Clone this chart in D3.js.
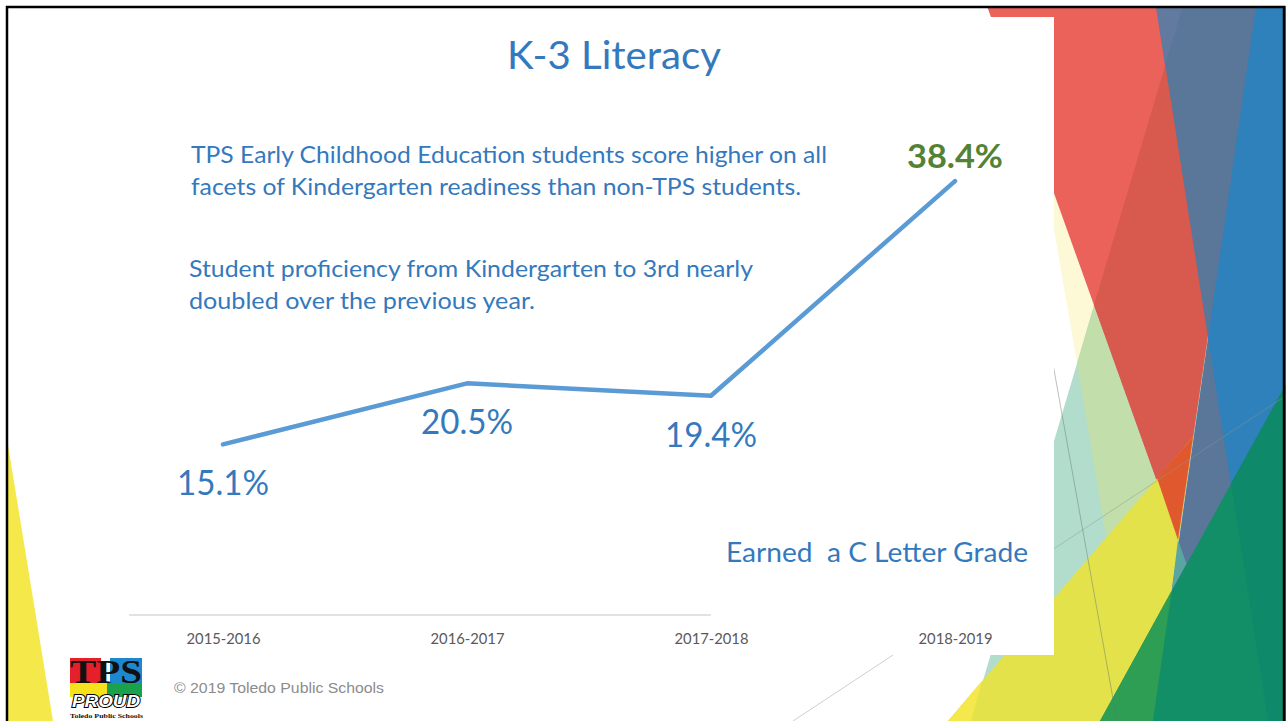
<!DOCTYPE html>
<html>
<head>
<meta charset="utf-8">
<script src="https://cdn.jsdelivr.net/npm/d3@7"></script>
<style>
  body { margin: 0; background: #fff; }
  text { font-family: Lato, "Open Sans", sans-serif; }
</style>
</head>
<body>
<div id="slide"></div>
<script>
// chart data
var years = ["2015-2016", "2016-2017", "2017-2018", "2018-2019"];
var literacy = [15.1, 20.5, 19.4, 38.4];
var title = "K-3 Literacy";
var noteLines = [
    "TPS Early Childhood Education students score higher on all",
    "facets of Kindergarten readiness than non-TPS students.",
    "Student proficiency from Kindergarten to 3rd nearly",
    "doubled over the previous year."
];
var gradeNote = "Earned  a C Letter Grade";
var copyright = "\u00a9 2019 Toledo Public Schools";

var W = 1286, H = 721;
var blue = "#3479BD";

var svg = d3.select("#slide")
    .append("svg")
        .attr("width", W)
        .attr("height", H);

svg.append("rect").attr("width", W).attr("height", H).attr("fill", "#fff");

/* BACKGROUND FACETS */
var facets = [
    {c: "#F5E84A", p: [[8,445],[53,721],[8,721]]},
    {c: "#B2DDCC", p: [[1183,6],[1290,6],[1290,721],[971,721]]},
    {c: "#FDF9D6", p: [[1042,160],[1094,305],[1077,363]]},
    {c: "#C1DEAB", p: [[1094,305],[1077,363],[1137,721],[1242,721]]},
    {c: "#EA6259", p: [[987,6],[1256,6],[1178,540]]},
    {c: "#D85A4F", p: [[1183,6],[1256,6],[1178,540],[1094,305]]},
    {c: "#5A7699", p: [[1156,6],[1290,6],[1290,721],[1153,721],[1208,338]]},
    {c: "#6279A0", p: [[1156,6],[1183,6],[1165,65]]},
    {c: "#2E81BB", p: [[1256,6],[1290,6],[1290,721],[1268,721],[1208,338]]},
    {c: "#E3E24B", p: [[1193,437],[1153,721],[948,721]]},
    {c: "#F4E84C", p: [[982.6,680],[948,721],[971,721]]},
    {c: "#E0592E", p: [[1157,478],[1193,437],[1178,540]]},
    {c: "#5AA5A0", p: [[1178,540],[1186.5,563.7],[1171.8,590.3]]},
    {c: "#128F67", p: [[1290,377],[1290,721],[1100,721]]},
    {c: "#2E9E55", p: [[1171.8,590.3],[1152.9,721],[1100,721]]},
    {c: "#0E8A6B", p: [[1231,483.6],[1290,377],[1290,721],[1268,721]]}
];
svg.append("g").selectAll("polygon")
    .data(facets)
    .enter().append("polygon")
        .attr("points", function(d) { return d.p.join(" "); })
        .attr("fill", function(d) { return d.c; });

// thin lines of the theme
svg.append("line").attr("x1", 1020).attr("y1", 180).attr("x2", 1117).attr("y2", 721)
    .attr("stroke", "#60786c").attr("stroke-opacity", 0.45).attr("stroke-width", 1);
svg.append("line").attr("x1", 793).attr("y1", 721).attr("x2", 1290).attr("y2", 393)
    .attr("stroke", "#8a9a92").attr("stroke-opacity", 0.45).attr("stroke-width", 1);

// white content box
svg.append("rect")
    .attr("x", 60).attr("y", 17)
    .attr("width", 994).attr("height", 638)
    .attr("fill", "#fff");

// slide frame
svg.append("rect")
    .attr("x", 7).attr("y", 7)
    .attr("width", 1277).attr("height", 730)
    .attr("fill", "none")
    .attr("stroke", "#000")
    .attr("stroke-width", 2.5);

// fit a text element to a given width
function fit(sel, w) {
    sel.attr("textLength", w).attr("lengthAdjust", "spacingAndGlyphs");
    return sel;
}

/* TITLE AND NOTES */
fit(svg.append("text")
    .attr("x", 507).attr("y", 69)
    .attr("font-size", 39)
    .attr("fill", blue)
    .text(title), 214);

var noteX = [191, 191, 189, 189];
var noteY = [163, 195, 277, 309];
var noteW = [636, 610, 564, 346];
noteLines.forEach(function(t, i) {
    fit(svg.append("text")
        .attr("x", noteX[i]).attr("y", noteY[i])
        .attr("font-size", 23.5)
        .attr("fill", blue)
        .text(t), noteW[i]);
});

/* SCALES */
var x = d3.scalePoint()
    .domain(years)
    .range([223, 955]);

var y = d3.scaleLinear()
    .domain([0, 40])
    .range([615, 163]);

// x axis
var xAxis = svg.append("g")
    .attr("transform", "translate(0," + y(0) + ")")
    .call(d3.axisBottom(x).tickSize(0).tickPadding(19));
xAxis.select(".domain").remove();
xAxis.selectAll("text")
    .style("font-family", "Lato, sans-serif")
    .attr("font-size", 14.5)
    .attr("fill", "#595959")
    .attr("textLength", 74)
    .attr("lengthAdjust", "spacingAndGlyphs");

svg.append("line")
    .attr("x1", 129).attr("x2", x(years[2]))
    .attr("y1", y(0)).attr("y2", y(0))
    .attr("stroke", "#D9D9D9")
    .attr("stroke-width", 1.3);

/* LINE */
var data = years.map(function(d, i) { return {year: d, value: literacy[i]}; });

var line = d3.line()
    .x(function(d) { return x(d.year); })
    .y(function(d) { return y(d.value); });

svg.append("path")
    .datum(data)
    .attr("d", line)
    .attr("fill", "none")
    .attr("stroke", "#5B9BD5")
    .attr("stroke-width", 4.5)
    .attr("stroke-linecap", "round")
    .attr("stroke-linejoin", "round");

/* VALUE LABELS */
svg.append("g").selectAll("text")
    .data(data)
    .enter().append("text")
        .attr("x", function(d) { return x(d.year); })
        .attr("y", function(d, i) { return i == data.length - 1 ? y(d.value) - 13 : y(d.value) + 51; })
        .attr("text-anchor", "middle")
        .attr("font-size", function(d, i) { return i == data.length - 1 ? 32 : 35; })
        .attr("font-weight", function(d, i) { return i == data.length - 1 ? "bold" : "normal"; })
        .attr("fill", function(d, i) { return i == data.length - 1 ? "#548235" : blue; })
        .attr("textLength", function(d, i) { return i == data.length - 1 ? 96 : 92; })
        .attr("lengthAdjust", "spacingAndGlyphs")
        .text(function(d) { return d.value.toFixed(1) + "%"; });

fit(svg.append("text")
    .attr("x", 726).attr("y", 562)
    .attr("font-size", 26)
    .attr("fill", blue)
    .style("white-space", "pre")
    .text(gradeNote), 302);

/* FOOTER */
fit(svg.append("text")
    .attr("x", 174).attr("y", 693)
    .style("font-family", "'Liberation Sans', Arial, sans-serif")
    .attr("font-size", 15)
    .attr("fill", "#8C8C8C")
    .text(copyright), 210);

// TPS PROUD logo
var logo = svg.append("g");
logo.append("rect").attr("x", 70).attr("y", 658).attr("width", 31).attr("height", 25).attr("fill", "#E5202A");
logo.append("rect").attr("x", 110).attr("y", 658).attr("width", 32).attr("height", 25).attr("fill", "#1E88CF");
logo.append("rect").attr("x", 70).attr("y", 683).attr("width", 37).attr("height", 14).attr("fill", "#F6E21C");
logo.append("rect").attr("x", 107).attr("y", 683).attr("width", 35).attr("height", 14).attr("fill", "#1AA14B");
fit(logo.append("text")
    .attr("x", 70).attr("y", 683)
    .style("font-family", "'Liberation Serif', serif")
    .attr("font-weight", "bold")
    .attr("font-size", 33)
    .attr("fill", "#111")
    .text("TPS"), 72);
fit(logo.append("text")
    .attr("x", 72).attr("y", 707)
    .style("font-family", "'Liberation Sans', sans-serif")
    .attr("font-weight", "bold")
    .attr("font-style", "italic")
    .attr("font-size", 16)
    .attr("fill", "#fff")
    .attr("stroke", "#000")
    .attr("stroke-width", 1.8)
    .attr("paint-order", "stroke")
    .text("PROUD"), 68);
fit(logo.append("text")
    .attr("x", 70).attr("y", 718)
    .style("font-family", "'Liberation Serif', serif")
    .attr("font-weight", "bold")
    .attr("font-size", 7)
    .attr("fill", "#111")
    .text("Toledo Public Schools"), 73);
</script>
</body>
</html>
